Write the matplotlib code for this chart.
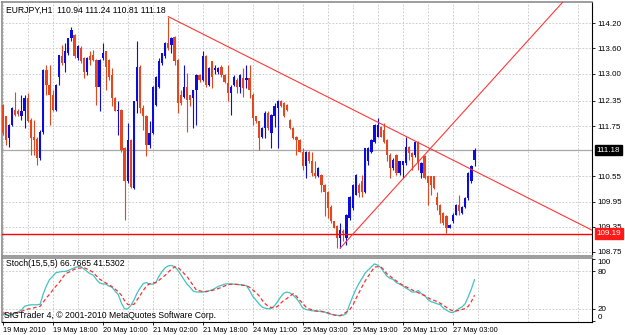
import matplotlib
matplotlib.use('Agg')
import numpy as np
import matplotlib.pyplot as plt

plt.rcParams['font.family'] = ['Liberation Sans', 'DejaVu Sans']

# EURJPY H1 candles (open, high, low, close)
opens = [112.26, 111.98, 111.46, 111.78, 112.14, 112.10, 112.00, 112.10, 112.42, 111.90,
         111.50, 111.45, 110.98, 111.60, 113.09, 112.73, 112.50, 112.14, 112.93, 113.41,
         113.25, 113.49, 113.84, 113.92, 113.38, 113.61, 113.38, 113.05, 113.41, 113.45,
         113.33, 112.69, 113.37, 113.53, 113.33, 112.97, 112.43, 112.10, 112.14, 111.22,
         110.43, 111.42, 110.27, 112.34, 113.17, 112.18, 112.00, 111.30, 111.58, 112.26,
         112.69, 113.25, 113.41, 113.73, 113.69, 113.88, 113.33, 112.49, 112.45, 112.69,
         112.49, 112.41, 112.61, 112.97, 112.85, 113.41, 112.73, 113.29, 113.09, 113.05,
         113.17, 112.97, 112.77, 112.53, 112.73, 112.85, 112.69, 112.89, 112.85, 112.90,
         112.49, 111.98, 111.86, 111.50, 111.70, 112.06, 111.58, 111.98, 112.18, 112.34,
         112.30, 112.26, 111.90, 111.70, 111.50, 111.42, 111.14, 110.79, 111.14, 110.91,
         110.63, 110.55, 110.59, 110.35, 110.19, 109.83, 109.48, 109.36, 109.08, 109.24,
         109.08, 109.56, 109.79, 110.11, 110.35, 110.43, 110.19, 110.91, 111.14, 111.38,
         111.50, 111.74, 111.66, 111.42, 111.06, 110.75, 111.06, 110.63, 110.83, 110.87,
         111.26, 111.10, 111.06, 111.38, 110.63, 111.03, 110.55, 110.55, 110.55, 110.07,
         109.87, 109.68, 109.60, 109.32, 109.48, 109.64, 109.87, 109.68, 109.83, 110.03,
         110.43, 110.94]
highs = [112.28, 112.00, 111.80, 112.20, 112.56, 112.15, 112.50, 112.50, 112.55, 111.95,
         111.90, 111.50, 111.65, 113.10, 113.21, 113.21, 112.60, 112.75, 113.44, 113.68,
         113.72, 113.86, 114.12, 113.94, 113.68, 113.65, 113.40, 113.40, 113.53, 113.57,
         113.35, 113.35, 113.73, 113.55, 113.35, 113.13, 112.45, 112.34, 112.16, 111.26,
         111.82, 111.45, 112.36, 113.77, 113.20, 112.26, 112.02, 111.86, 112.70, 112.95,
         113.37, 113.50, 113.75, 114.36, 113.88, 113.90, 113.35, 112.60, 113.21, 113.01,
         112.50, 112.62, 113.00, 113.00, 113.53, 113.45, 113.15, 113.30, 113.20, 113.15,
         113.21, 113.00, 113.21, 112.73, 112.97, 112.90, 112.98, 113.13, 113.21, 113.21,
         112.55, 112.00, 111.88, 111.72, 112.10, 112.10, 112.04, 112.30, 112.38, 112.38,
         112.32, 112.27, 111.92, 111.72, 111.52, 111.44, 111.22, 111.16, 111.16, 111.14,
         110.91, 110.77, 110.60, 110.37, 110.20, 109.87, 109.50, 109.40, 109.44, 109.30,
         109.65, 110.08, 110.36, 110.60, 110.39, 110.59, 111.24, 111.26, 111.44, 111.80,
         111.94, 111.76, 111.82, 111.44, 111.10, 111.00, 111.08, 110.93, 110.93, 111.50,
         111.28, 111.14, 111.40, 111.40, 110.90, 111.05, 110.57, 110.57, 110.57, 110.19,
         109.90, 109.70, 109.62, 109.42, 109.68, 109.90, 110.11, 109.85, 110.05, 110.65,
         110.83, 111.24]
lows = [111.54, 111.30, 111.26, 111.75, 111.98, 111.98, 111.90, 111.70, 111.84, 111.07,
        111.07, 110.82, 110.95, 111.55, 112.49, 111.78, 112.10, 112.10, 112.73, 113.20,
        113.05, 113.45, 113.77, 113.37, 113.33, 113.25, 112.89, 112.97, 113.21, 113.29,
        112.26, 112.10, 113.33, 112.61, 112.85, 112.22, 112.10, 111.54, 111.14, 109.52,
        110.40, 110.28, 110.25, 112.06, 112.06, 111.66, 111.03, 111.22, 111.55, 112.22,
        112.65, 113.21, 113.38, 113.57, 113.49, 113.21, 112.06, 112.26, 112.41, 111.62,
        112.22, 111.70, 111.78, 112.80, 112.83, 112.69, 112.70, 112.65, 113.00, 113.00,
        112.93, 112.78, 112.34, 112.02, 112.70, 112.53, 112.53, 112.45, 112.65, 112.41,
        111.78, 111.82, 111.18, 111.46, 111.46, 111.66, 111.22, 111.74, 111.22, 112.20,
        111.96, 112.10, 111.68, 111.44, 111.06, 111.14, 110.71, 110.51, 110.87, 110.55,
        110.51, 110.53, 110.19, 109.60, 109.56, 109.44, 109.32, 108.84, 108.84, 109.00,
        108.92, 109.52, 109.75, 110.10, 110.07, 110.07, 110.15, 110.83, 111.10, 111.34,
        111.48, 111.48, 111.34, 110.91, 110.51, 110.70, 110.59, 110.59, 110.51, 110.83,
        110.95, 110.71, 111.02, 110.71, 110.51, 110.49, 109.87, 110.11, 110.25, 109.75,
        109.44, 109.40, 109.20, 109.32, 109.44, 109.62, 109.64, 109.66, 109.80, 110.00,
        110.40, 110.81]
closes = [111.58, 111.42, 111.78, 112.18, 112.02, 112.03, 112.10, 112.42, 111.86, 111.46,
          111.42, 110.98, 111.62, 113.09, 112.73, 112.50, 112.14, 112.73, 113.44, 113.25,
          113.53, 113.84, 114.04, 113.41, 113.65, 113.29, 113.05, 113.37, 113.33, 113.33,
          112.69, 113.33, 113.49, 113.17, 112.93, 112.41, 112.10, 112.14, 111.18, 110.43,
          111.42, 110.31, 112.34, 113.17, 112.18, 111.98, 111.30, 111.58, 112.69, 112.93,
          113.29, 113.49, 113.73, 113.61, 113.84, 113.29, 112.30, 112.30, 112.69, 112.38,
          112.38, 112.61, 112.97, 112.85, 113.41, 112.73, 113.13, 112.93, 113.13, 113.13,
          112.97, 112.81, 112.53, 112.69, 112.93, 112.69, 112.97, 112.65, 112.90, 112.60,
          111.94, 111.86, 111.46, 111.70, 112.06, 111.70, 112.02, 112.22, 112.34, 112.22,
          111.98, 112.14, 111.70, 111.46, 111.42, 111.14, 110.79, 111.14, 110.91, 110.63,
          110.55, 110.75, 110.35, 110.19, 109.79, 109.48, 109.32, 109.08, 109.28, 109.20,
          109.64, 110.07, 110.35, 110.59, 110.15, 110.19, 111.22, 111.22, 111.42, 111.78,
          111.78, 111.50, 111.38, 111.06, 110.75, 110.95, 110.63, 110.91, 110.91, 111.26,
          111.10, 111.02, 111.38, 110.87, 110.87, 110.51, 110.39, 110.35, 110.27, 109.87,
          109.64, 109.44, 109.32, 109.40, 109.64, 109.87, 109.72, 109.83, 110.03, 110.63,
          110.79, 111.18]

# Stochastic(15,5,5): main (%K) and signal (%D)
stoch_k = [10, 9.7, 8.7, 10, 12.3, 14.4, 17.5, 23.6, 25, 26,
           26, 26, 27, 44, 57, 67, 72, 78, 79, 80,
           80, 81.6, 84, 86, 87.7, 88, 84, 80, 76.4, 74,
           67, 61.5, 60, 59.5, 56.4, 54.4, 48, 42.6, 28.7, 19.5,
           19.5, 24.6, 33.8, 45, 53.3, 60.5, 62, 59.5, 59.5, 62,
           72.3, 80, 86, 89, 89.8, 88, 82.6, 75, 67, 59.5,
           54.4, 48, 46.7, 46.7, 46.7, 47.7, 48.7, 50.3, 52.8, 55.9,
           57.5, 59.5, 60, 59.5, 59.5, 59, 58.5, 58, 57, 49.2,
           40, 33.8, 27.7, 22.6, 20.5, 19.5, 20.5, 24.6, 31.3, 39,
           45, 46.7, 45, 41.5, 36.4, 29.7, 21, 18.5, 17.4, 16.4,
           15.9, 15.4, 15.9, 14.4, 12.3, 10.8, 9.7, 9.2, 8.2, 9.2,
           11.8, 26.2, 39, 50.8, 60.5, 68.7, 77.5, 82.6, 87.7, 92.3,
           90.3, 86.2, 79, 72.3, 68.7, 67.2, 62, 59.5, 57, 53.3,
           50.3, 46.7, 46.7, 49.2, 44, 41.5, 34.9, 31.3, 29.7, 27.7,
           26.2, 21, 17.4, 14.4, 13.3, 15.9, 20, 22.6, 27.7, 39,
           51.8, 66.77]
stoch_d = [12.8, 12.3, 11.8, 10.8, 11.8, 13.8, 15.4, 17.4, 19, 20,
           21, 22.6, 23.6, 30.3, 37.4, 43, 49.8, 56, 61.6, 68.7,
           75.9, 78.5, 81, 83.6, 85.2, 85.7, 86.2, 84, 81.6, 78.5,
           72.8, 67.7, 64.6, 61.5, 58.5, 55.4, 51.3, 47.2, 41.5, 32.8,
           26.7, 26.2, 26.7, 33.8, 41.5, 49.2, 56.4, 60, 61.5, 62,
           65.7, 69.8, 73.9, 79, 83.6, 87.2, 87.2, 82, 77, 71.8,
           64.6, 56.9, 49.7, 48.7, 47.7, 47.2, 48.2, 49.2, 50.8, 52.3,
           54.4, 56.4, 58.5, 59.5, 59.5, 59, 58.5, 57.5, 57, 54.4,
           50.3, 46.2, 41, 33.8, 27.7, 23.6, 21.5, 21, 23.6, 28.7,
           33.3, 36.4, 40.5, 44.1, 40, 33.8, 28.7, 22.6, 19.5, 18,
           16.4, 15.4, 14.9, 14.4, 13.3, 11.3, 9.7, 8.2, 8.7, 10.8,
           14.4, 18, 24.6, 35.4, 45.6, 55.4, 64.6, 72.3, 80, 87.2,
           87.7, 87.7, 82.6, 75.9, 72.3, 68.2, 64.6, 61, 58, 55.4,
           52.8, 50.3, 47.7, 45.6, 43, 41, 38, 34.9, 33.3, 31.3,
           28.7, 25.6, 22, 18.5, 16.4, 15.9, 16.9, 18.5, 20, 23.6,
           31.3, 41.53]

time_labels = ['19 May 2010', '19 May 18:00', '20 May 10:00', '21 May 02:00', '21 May 18:00',
               '24 May 11:00', '25 May 03:00', '25 May 19:00', '26 May 11:00', '27 May 03:00']
price_ticks = [114.20, 113.60, 113.00, 112.35, 111.75, 110.55, 109.95, 109.35, 108.75]
bid_price = 111.18
level_price = 109.19

# trend lines: (bar index, price) end points
trend_down_x = [53, 188.6]
trend_down_y = [114.36, 109.27]
trend_up_x = [108, 179.3]
trend_up_y = [108.84, 114.71]

BULL = '#0c0cdc'
BEAR = '#e4461e'
GRID = '#c4c4c4'
FS = 5.8

W, H = 625, 335
fig = plt.figure(figsize=(W / 100, H / 100), dpi=100)
fig.patch.set_facecolor('white')


def box(x0, y0, x1, y1):
    return [x0 / W, 1 - y1 / H, (x1 - x0) / W, (y1 - y0) / H]


ax = fig.add_axes(box(2, 2, 592, 256))
ax2 = fig.add_axes(box(2, 258, 592, 322), sharex=ax)

idx = np.arange(len(closes))
o = np.array(opens)
c = np.array(closes)
hi = np.maximum(np.array(highs), np.maximum(o, c))
lo = np.minimum(np.array(lows), np.minimum(o, c))
colors = np.where(c >= o, BULL, BEAR)

ax.vlines(idx, lo, hi, colors=colors, lw=0.8, zorder=3)
ax.bar(idx, np.maximum(np.abs(c - o), 0.025), bottom=np.minimum(o, c), width=0.72,
       color=colors, linewidth=0, zorder=4)

ax.axhline(bid_price, color='#a8a8a8', lw=0.9, zorder=2)
ax.axhline(level_price, color='#ff0000', lw=1.0, zorder=5)
ax.plot(trend_down_x, trend_down_y, color='#ff3838', lw=0.8, zorder=5)
ax.plot(trend_up_x, trend_up_y, color='#ff3838', lw=0.8, zorder=5)

ax.set_xlim(-0.22, 188.6)
ax.set_ylim(108.654, 114.708)

ax.set_yticks(price_ticks, labels=[f'{v:.2f}' for v in price_ticks])
ax.yaxis.tick_right()
ax.tick_params(axis='y', length=2, width=0.6, pad=2, labelsize=FS)
ax.tick_params(axis='x', which='both', length=0, labelbottom=False)
ax.set_xticks(np.arange(8, 189, 16), minor=True)
ax.set_xticks(np.arange(0, 145, 16))
ax.xaxis.grid(True, which='both', color=GRID, ls=(0, (2, 2)), lw=0.6)
ax.yaxis.grid(True, color=GRID, ls=(0, (2, 2)), lw=0.6)
ax.set_axisbelow(True)

tr = ax.get_yaxis_transform()
ax.text(1.008, bid_price, f'{bid_price:.2f}', transform=tr, ha='left', va='center',
        fontsize=FS, color='white',
        bbox=dict(boxstyle='square,pad=0.22', fc='black', ec='black'))
ax.text(1.008, level_price, f'{level_price:.2f}', transform=tr, ha='left', va='center',
        fontsize=FS, color='white',
        bbox=dict(boxstyle='square,pad=0.22', fc='#ff1a1a', ec='#ff1a1a'))

ax.text(4 / 590, 1 - 8 / 254, 'EURJPY,H1  110.94 111.24 110.81 111.18',
        transform=ax.transAxes, ha='left', va='center', fontsize=6.2)

# stochastic panel
ax2.plot(idx, stoch_k, color='#44c2c2', lw=0.9)
ax2.plot(idx, stoch_d, color='#ff3030', lw=0.9, ls=(0, (3, 2)))
ax2.set_ylim(-1.85, 101.85)
ax2.set_yticks([20, 80], labels=['20', '80'])
ax2.set_yticks([0, 100], labels=['0', '100'], minor=True)
ax2.yaxis.tick_right()
ax2.tick_params(axis='y', which='both', length=2, width=0.6, pad=2, labelsize=FS)
for lab in ax2.get_yticklabels(minor=True):
    lab.set_va('top' if lab.get_text() == '100' else 'bottom')
ax2.set_xticks(np.arange(0, 145, 16), labels=time_labels)
ax2.set_xticks(np.arange(8, 189, 16), minor=True)
ax2.tick_params(axis='x', which='major', length=2, width=0.6, pad=1.5, labelsize=5.3)
ax2.tick_params(axis='x', which='minor', length=0)
for lab in ax2.get_xticklabels():
    lab.set_ha('left')
ax2.xaxis.grid(True, which='both', color=GRID, ls=(0, (2, 2)), lw=0.6)
ax2.yaxis.grid(True, which='major', color=GRID, ls=(0, (2, 2)), lw=0.6)
ax2.set_axisbelow(True)

ax2.text(4 / 590, 1 - 6 / 64, 'Stoch(15,5,5) 66.7665 41.5302', transform=ax2.transAxes,
         ha='left', va='center', fontsize=6.2)
ax2.text(2 / 590, 7 / 64, 'SIGTrader 4, \u00a9 2001-2010 MetaQuotes Software Corp.',
         transform=ax2.transAxes, ha='left', va='center', fontsize=6.2)

for a in (ax, ax2):
    for side in ('left', 'top', 'bottom'):
        a.spines[side].set_color('#8c8c8c')
        a.spines[side].set_linewidth(1.2)
    a.spines['right'].set_color('black')
    a.spines['right'].set_linewidth(0.8)
ax2.spines['bottom'].set_color('black')
ax2.spines['bottom'].set_linewidth(0.8)

fig.savefig('out.png', dpi=100)
